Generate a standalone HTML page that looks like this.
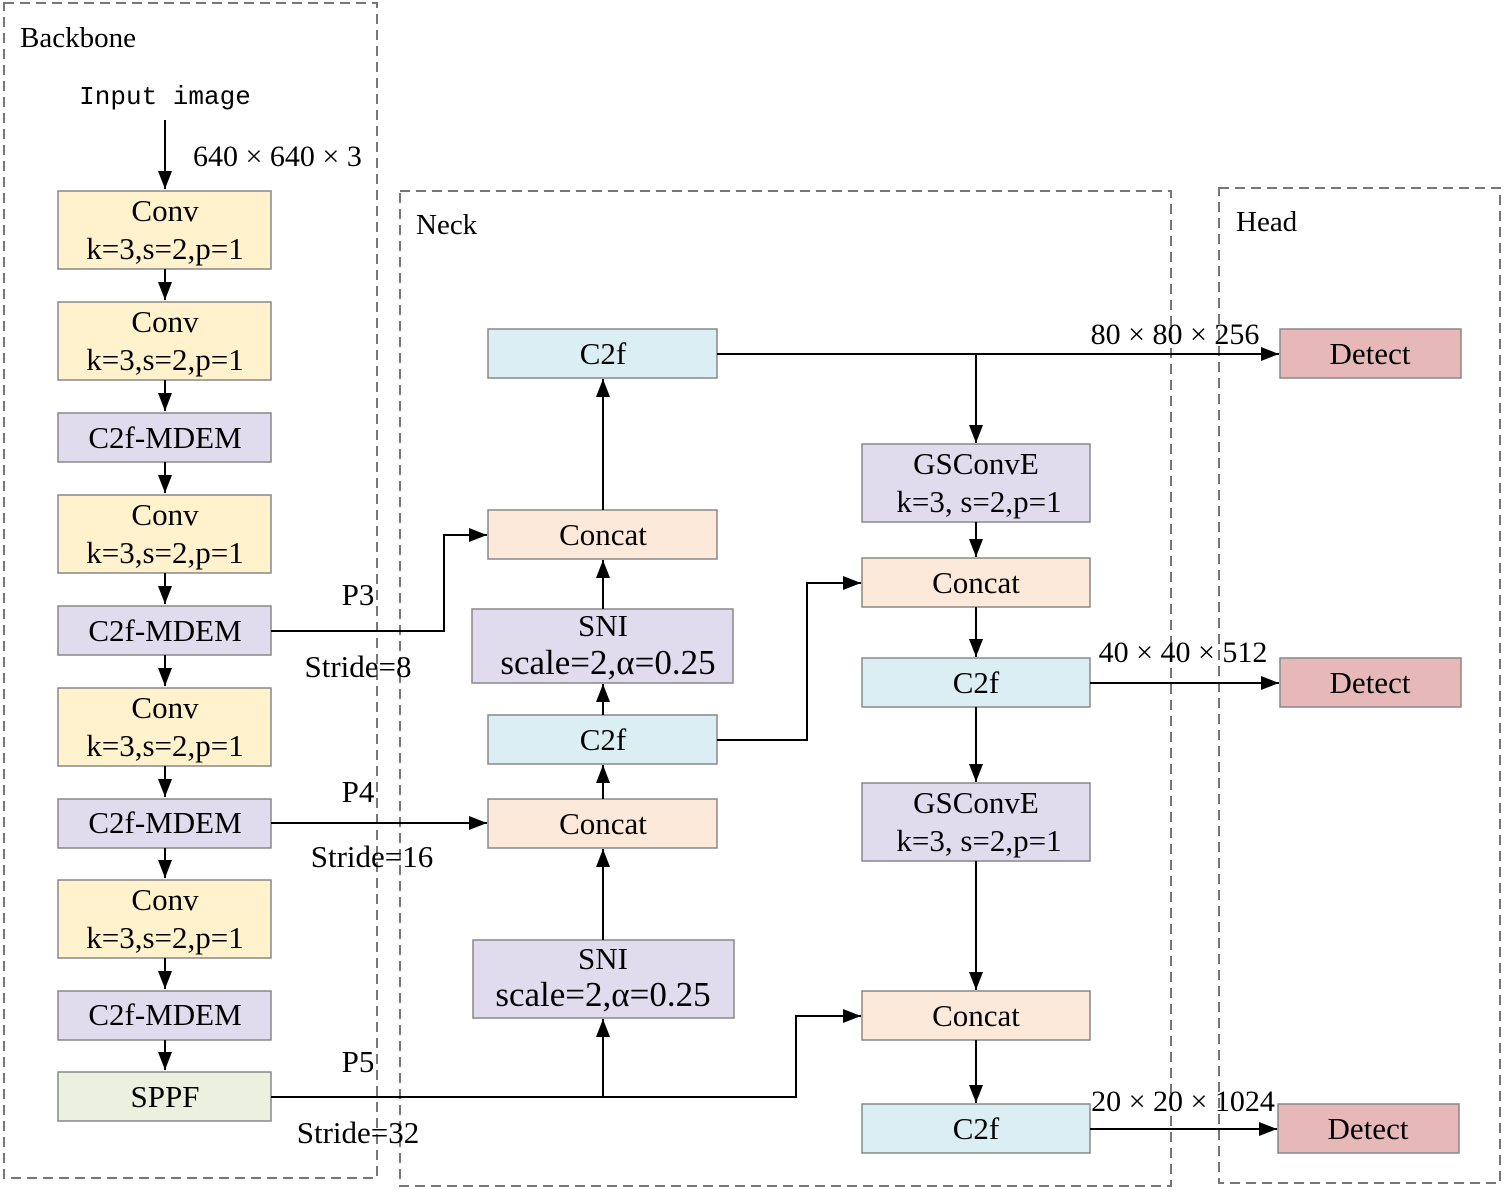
<!DOCTYPE html>
<html><head><meta charset="utf-8"><style>body{margin:0;background:#fff}</style></head><body>
<svg width="1505" height="1190" xmlns="http://www.w3.org/2000/svg" font-family="Liberation Serif, serif" font-size="31" text-anchor="middle">
<defs>
<marker id="b" markerWidth="20" markerHeight="20" refX="18" refY="10" orient="auto" markerUnits="userSpaceOnUse" viewBox="0 0 20 20"><path d="M0,3 L18,10 L0,17 z" fill="#000"/></marker></defs>
<g fill="none" stroke="#777" stroke-width="2" stroke-dasharray="10,6">
<rect x="4" y="3" width="373" height="1175"/>
<rect x="400" y="191" width="771" height="995"/>
<rect x="1219" y="188" width="281" height="995"/>
</g>
<text x="20" y="47" text-anchor="start" font-size="29">Backbone</text>
<text x="416" y="234" text-anchor="start" font-size="29">Neck</text>
<text x="1236" y="231" text-anchor="start" font-size="29">Head</text>
<text x="165" y="104" font-family="Liberation Mono, monospace" font-size="26">Input image</text>
<text x="193" y="166" text-anchor="start" font-size="30">640 × 640 × 3</text>
<g stroke="#888" stroke-width="1.5">
<rect x="58" y="191" width="213" height="78" fill="#fff2cc"/>
<rect x="58" y="302" width="213" height="78" fill="#fff2cc"/>
<rect x="58" y="413" width="213" height="49" fill="#e1dbee"/>
<rect x="58" y="495" width="213" height="78" fill="#fff2cc"/>
<rect x="58" y="606" width="213" height="49" fill="#e1dbee"/>
<rect x="58" y="688" width="213" height="78" fill="#fff2cc"/>
<rect x="58" y="799" width="213" height="49" fill="#e1dbee"/>
<rect x="58" y="880" width="213" height="78" fill="#fff2cc"/>
<rect x="58" y="991" width="213" height="49" fill="#e1dbee"/>
<rect x="58" y="1072" width="213" height="49" fill="#ebf1de"/>
<rect x="488" y="329" width="229" height="49" fill="#dbeef3"/>
<rect x="488" y="510" width="229" height="49" fill="#fde9d9"/>
<rect x="472" y="609" width="261" height="74" fill="#e1dbee"/>
<rect x="488" y="715" width="229" height="49" fill="#dbeef3"/>
<rect x="488" y="799" width="229" height="49" fill="#fde9d9"/>
<rect x="473" y="940" width="261" height="78" fill="#e1dbee"/>
<rect x="862" y="444" width="228" height="78" fill="#e1dbee"/>
<rect x="862" y="558" width="228" height="49" fill="#fde9d9"/>
<rect x="862" y="658" width="228" height="49" fill="#dbeef3"/>
<rect x="862" y="783" width="228" height="78" fill="#e1dbee"/>
<rect x="862" y="991" width="228" height="49" fill="#fde9d9"/>
<rect x="862" y="1104" width="228" height="49" fill="#dbeef3"/>
<rect x="1280" y="329" width="181" height="49" fill="#e6b9b8"/>
<rect x="1280" y="658" width="181" height="49" fill="#e6b9b8"/>
<rect x="1278" y="1104" width="181" height="49" fill="#e6b9b8"/>
</g>
<g>
<text x="165" y="221">Conv</text><text x="165" y="259">k=3,s=2,p=1</text>
<text x="165" y="332">Conv</text><text x="165" y="370">k=3,s=2,p=1</text>
<text x="165" y="448">C2f-MDEM</text>
<text x="165" y="525">Conv</text><text x="165" y="563">k=3,s=2,p=1</text>
<text x="165" y="641">C2f-MDEM</text>
<text x="165" y="718">Conv</text><text x="165" y="756">k=3,s=2,p=1</text>
<text x="165" y="833">C2f-MDEM</text>
<text x="165" y="910">Conv</text><text x="165" y="948">k=3,s=2,p=1</text>
<text x="165" y="1025">C2f-MDEM</text>
<text x="165" y="1107">SPPF</text>
<text x="603" y="364">C2f</text>
<text x="603" y="545">Concat</text>
<text x="603" y="636">SNI</text><text x="608" y="674" font-size="35">scale=2,α=0.25</text>
<text x="603" y="750">C2f</text>
<text x="603" y="834">Concat</text>
<text x="603" y="969">SNI</text><text x="603" y="1006" font-size="35">scale=2,α=0.25</text>
<text x="976" y="474">GSConvE</text><text x="979" y="512">k=3, s=2,p=1</text>
<text x="976" y="593">Concat</text>
<text x="976" y="693">C2f</text>
<text x="976" y="813">GSConvE</text><text x="979" y="851">k=3, s=2,p=1</text>
<text x="976" y="1026">Concat</text>
<text x="976" y="1139">C2f</text>
<text x="1370" y="364">Detect</text>
<text x="1370" y="693">Detect</text>
<text x="1368" y="1139">Detect</text>
<text x="358" y="605">P3</text><text x="358" y="677">Stride=8</text>
<text x="358" y="802">P4</text><text x="372" y="867">Stride=16</text>
<text x="358" y="1072">P5</text><text x="358" y="1143">Stride=32</text>
<text x="1175" y="344" font-size="30">80 × 80 × 256</text>
<text x="1183" y="662" font-size="30">40 × 40 × 512</text>
<text x="1183" y="1111" font-size="30">20 × 20 × 1024</text>
</g>
<g stroke="#000" stroke-width="2" fill="none" marker-end="url(#b)">
<path d="M165,120V189"/>
<path d="M165,269V300"/><path d="M165,380V411"/><path d="M165,462V493"/><path d="M165,573V604"/>
<path d="M165,655V686"/><path d="M165,766V797"/><path d="M165,848V878"/><path d="M165,958V989"/><path d="M165,1040V1070"/>
<path d="M271,631H444V535H487"/>
<path d="M271,823H487"/>
<path d="M271,1097H796V1016H861"/>
<path d="M603,1097V1019"/>
<path d="M603,940V849"/><path d="M603,799V765"/><path d="M603,715V684"/><path d="M603,609V560"/><path d="M603,510V379"/>
<path d="M717,740H807V583H861"/>
<path d="M717,354H1279"/>
<path d="M976,354V443"/>
<path d="M976,522V557"/><path d="M976,607V657"/><path d="M976,707V782"/><path d="M976,861V990"/><path d="M976,1040V1103"/>
<path d="M1090,683H1279"/>
<path d="M1090,1129H1277"/>
</g>
</svg>
</body></html>
